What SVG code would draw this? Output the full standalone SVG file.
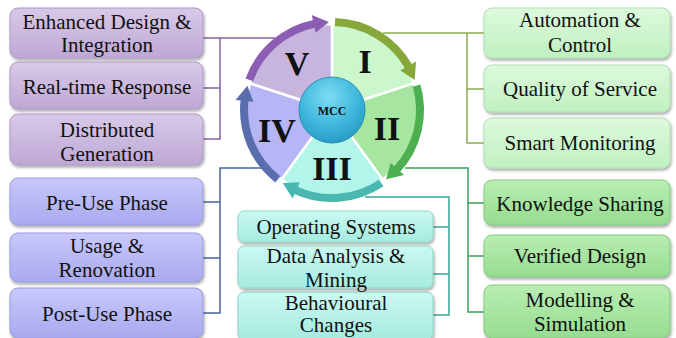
<svg xmlns="http://www.w3.org/2000/svg" width="676" height="338" viewBox="0 0 676 338">
<defs>
<style>
.t{font-family:"Liberation Serif","Times New Roman",serif;font-size:21px;fill:#111;text-anchor:middle}
.rn{font-family:"Liberation Serif","Times New Roman",serif;font-size:34px;font-weight:bold;fill:#111;text-anchor:middle}
.box{filter:url(#sh);stroke-width:1}
.bp{fill:url(#gp);stroke:#ad98c6}
.bb{fill:url(#gb);stroke:#9a9ae0}
.bt{fill:url(#gt);stroke:#8fd6ca}
.bg{fill:url(#gg);stroke:#b0dfb0}
.bd{fill:url(#gd);stroke:#86c980}
.cn{fill:none;stroke-width:1.5}
.sec{stroke:#fff;stroke-width:2.5}
.arc{fill:none;stroke-width:8}
</style>
<filter id="sh" x="-10%" y="-20%" width="120%" height="150%">
<feDropShadow dx="1" dy="2" stdDeviation="1.5" flood-color="#000" flood-opacity="0.35"/>
</filter>
<linearGradient id="gp" x1="0" y1="0" x2="0" y2="1"><stop offset="0" stop-color="#d8c9e8"/><stop offset="1" stop-color="#bea8d5"/></linearGradient>
<linearGradient id="gb" x1="0" y1="0" x2="0" y2="1"><stop offset="0" stop-color="#c8c8fb"/><stop offset="1" stop-color="#a9a9ef"/></linearGradient>
<linearGradient id="gt" x1="0" y1="0" x2="0" y2="1"><stop offset="0" stop-color="#cbf9f2"/><stop offset="1" stop-color="#a5ebe0"/></linearGradient>
<linearGradient id="gg" x1="0" y1="0" x2="0" y2="1"><stop offset="0" stop-color="#dcfadc"/><stop offset="1" stop-color="#c0f0c0"/></linearGradient>
<linearGradient id="gd" x1="0" y1="0" x2="0" y2="1"><stop offset="0" stop-color="#b8eeb2"/><stop offset="1" stop-color="#96dc90"/></linearGradient>
<radialGradient id="gm" cx="0.45" cy="0.3" r="0.75"><stop offset="0" stop-color="#7fdcf2"/><stop offset="0.6" stop-color="#3cb6dc"/><stop offset="1" stop-color="#2696c0"/></radialGradient>
</defs>

<g id="connectors">
<path class="cn" stroke="#8462a6" d="M275,38 H220 V139 H203 M220,88 H203 M220,38 H203"/>
<path class="cn" stroke="#8aaa50" d="M383,33 H467 V143 H484 M467,89 H484 M467,33 H484"/>
<path class="cn" stroke="#4a62a0" d="M272,168 H220 V313 H203 M220,202 H203 M220,258 H203"/>
<path class="cn" stroke="#3c9f5c" d="M405,168 H468 V312 H484 M468,203 H484 M468,256 H484"/>
<path class="cn" stroke="#3aa394" d="M365,197 H449 V315 H433 M449,227 H433 M449,274 H433"/>
</g>

<g id="wheel">
<path class="sec" fill="#ccf7cc" d="M332,110 L332,24 A86,86 0 0 1 413.8,83.4 Z"/>
<path class="sec" fill="#a6e6a0" d="M332,110 L413.8,83.4 A86,86 0 0 1 382.6,179.6 Z"/>
<path class="sec" fill="#b2f5ea" d="M332,110 L382.6,179.6 A86,86 0 0 1 281.4,179.6 Z"/>
<path class="sec" fill="#b6b6f6" d="M332,110 L281.4,179.6 A86,86 0 0 1 250.2,83.4 Z"/>
<path class="sec" fill="#c7b5de" d="M332,110 L250.2,83.4 A86,86 0 0 1 332,24 Z"/>
<path class="arc" stroke="#86a83a" d="M335.1,22.1 A88,88 0 0 1 409.0,67.3"/>
<polygon fill="#86a83a" points="400.4,70.5 416.0,61.5 414.7,79.9"/>
<path class="arc" stroke="#4caf50" d="M416.6,85.7 A88,88 0 0 1 396.4,170.0"/>
<polygon fill="#4caf50" points="390.7,162.9 404.1,174.9 386.2,179.3"/>
<path class="arc" stroke="#4ab8b0" d="M381.2,183.0 A88,88 0 0 1 294.8,189.8"/>
<polygon fill="#4ab8b0" points="299.9,182.2 292.6,198.6 282.8,183.0"/>
<path class="arc" stroke="#5a6eaf" d="M277.8,179.3 A88,88 0 0 1 244.7,99.3"/>
<polygon fill="#5a6eaf" points="253.4,101.7 235.5,99.9 247.4,85.7"/>
<path class="arc" stroke="#8c5db5" d="M249.3,79.9 A88,88 0 0 1 315.2,23.6"/>
<polygon fill="#8c5db5" points="315.6,32.7 311.8,15.1 328.9,22.1"/>
<text class="rn" x="365" y="73">I</text>
<text class="rn" x="387" y="140">II</text>
<text class="rn" x="332" y="180">III</text>
<text class="rn" x="277" y="142">IV</text>
<text class="rn" x="297" y="75">V</text>
</g>

<g id="mcc">
<circle cx="332" cy="110" r="33" fill="url(#gm)" stroke="#2a8fb5" stroke-width="1"/>
<text x="332" y="115" font-family="Liberation Serif, serif" font-size="12" font-weight="bold" text-anchor="middle" fill="#111">MCC</text>
</g>

<g id="enhanced-design"><rect class="box bp" x="10" y="8" width="193" height="50" rx="8"/><text class="t" x="107" y="29">Enhanced Design &amp;</text><text class="t" x="107" y="52">Integration</text></g>
<g id="real-time-response"><rect class="box bp" x="10" y="62" width="193" height="47" rx="8"/><text class="t" x="107" y="94">Real-time Response</text></g>
<g id="distributed-generation"><rect class="box bp" x="10" y="114" width="193" height="51" rx="8"/><text class="t" x="107" y="137">Distributed</text><text class="t" x="107" y="161">Generation</text></g>

<g id="pre-use"><rect class="box bb" x="10" y="178" width="193" height="47" rx="8"/><text class="t" x="107" y="210">Pre-Use Phase</text></g>
<g id="usage-renovation"><rect class="box bb" x="10" y="233" width="193" height="49" rx="8"/><text class="t" x="107" y="253">Usage &amp;</text><text class="t" x="107" y="277">Renovation</text></g>
<g id="post-use"><rect class="box bb" x="10" y="288" width="193" height="50" rx="8"/><text class="t" x="107" y="321">Post-Use Phase</text></g>

<g id="operating-systems"><rect class="box bt" x="238" y="211" width="195" height="31" rx="6"/><text class="t" x="336" y="234">Operating Systems</text></g>
<g id="behavioural-changes"><rect class="box bt" x="238" y="292" width="195" height="48" rx="6"/><text class="t" x="336" y="310">Behavioural</text><text class="t" x="336" y="332">Changes</text></g>
<g id="data-analysis"><rect class="box bt" x="238" y="246" width="195" height="42" rx="6"/><text class="t" x="336" y="263">Data Analysis &amp;</text><text class="t" x="336" y="287">Mining</text></g>

<g id="automation-control"><rect class="box bg" x="484" y="8" width="186" height="50" rx="8"/><text class="t" x="580" y="27">Automation &amp;</text><text class="t" x="580" y="52">Control</text></g>
<g id="quality-of-service"><rect class="box bg" x="484" y="65" width="186" height="47" rx="8"/><text class="t" x="580" y="96">Quality of Service</text></g>
<g id="smart-monitoring"><rect class="box bg" x="484" y="118" width="186" height="50" rx="8"/><text class="t" x="580" y="150">Smart Monitoring</text></g>

<g id="knowledge-sharing"><rect class="box bd" x="484" y="180" width="186" height="45" rx="8"/><text class="t" x="580" y="211">Knowledge Sharing</text></g>
<g id="verified-design"><rect class="box bd" x="484" y="235" width="186" height="42" rx="8"/><text class="t" x="580" y="263">Verified Design</text></g>
<g id="modelling-simulation"><rect class="box bd" x="484" y="285" width="186" height="53" rx="8"/><text class="t" x="580" y="307">Modelling &amp;</text><text class="t" x="580" y="331">Simulation</text></g>
</svg>
